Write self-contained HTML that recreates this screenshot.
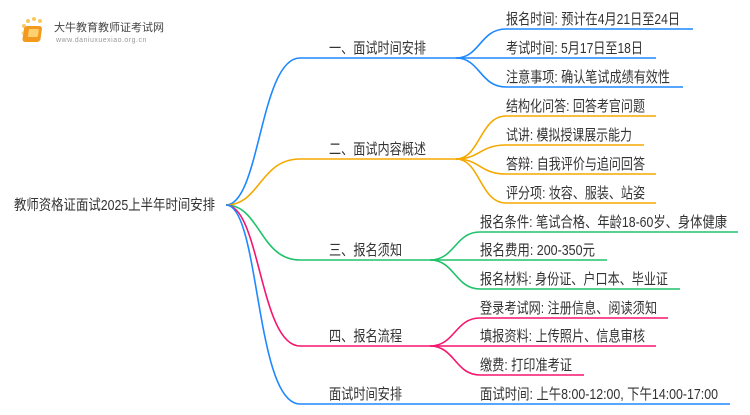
<!DOCTYPE html>
<html><head><meta charset="utf-8"><style>
html,body{margin:0;padding:0;background:#fff;}
svg text{font-family:"Liberation Sans","Noto Sans CJK SC",sans-serif;fill:#333;}
</style></head><body>
<svg width="750" height="410" viewBox="0 0 750 410" xmlns="http://www.w3.org/2000/svg">
<g>
<circle cx="24" cy="26" r="2" fill="#f8c860"/><circle cx="28" cy="21" r="2" fill="#f8c860"/><circle cx="34" cy="19" r="2" fill="#f8c860"/><circle cx="40" cy="21" r="2" fill="#f8c860"/><circle cx="23" cy="33" r="1.6" fill="#f8d890"/>
<rect x="28" y="26" width="18" height="16" rx="3" fill="#f39a1e" transform="skewX(-8)"/>
<rect x="33" y="29" width="10" height="8" rx="1" fill="#ffd070" transform="skewX(-8)"/>
<text x="54" y="31" font-size="11" style="fill:#444">大牛教育教师证考试网</text>
<text x="56" y="42" font-size="7" style="fill:#999" letter-spacing="0.5">www.daniuxuexiao.org.cn</text>
</g>
<text x="14" y="210" font-size="14.5" textLength="201" lengthAdjust="spacingAndGlyphs">教师资格证面试2025上半年时间安排</text>
<g fill="none" stroke-width="1.6">
<path d="M226 205 C260 205,260 58,300 58 L456 58" stroke="#1e88ff"/>
<path d="M456 58 C480 58,480 29,506 29 L693 29" stroke="#1e88ff"/>
<path d="M456 58 L656 58" stroke="#1e88ff"/>
<path d="M456 58 C480 58,480 87,506 87 L683 87" stroke="#1e88ff"/>
<path d="M226 205 C260 205,260 159,300 159 L456 159" stroke="#f5a800"/>
<path d="M456 159 C480 159,480 116,506 116 L656 116" stroke="#f5a800"/>
<path d="M456 159 C480 159,480 145,506 145 L644 145" stroke="#f5a800"/>
<path d="M456 159 C480 159,480 174,506 174 L656 174" stroke="#f5a800"/>
<path d="M456 159 C480 159,480 203,506 203 L656 203" stroke="#f5a800"/>
<path d="M226 205 C260 205,260 260,300 260 L430 260" stroke="#1ec26a"/>
<path d="M430 260 C455 260,455 232,480 232 L738 232" stroke="#1ec26a"/>
<path d="M430 260 L607 260" stroke="#1ec26a"/>
<path d="M430 260 C455 260,455 289,480 289 L680 289" stroke="#1ec26a"/>
<path d="M226 205 C260 205,260 346,300 346 L430 346" stroke="#f5156e"/>
<path d="M430 346 C455 346,455 318,480 318 L668 318" stroke="#f5156e"/>
<path d="M430 346 L656 346" stroke="#f5156e"/>
<path d="M430 346 C455 346,455 375,480 375 L584 375" stroke="#f5156e"/>
<path d="M226 205 C260 205,255 404,300 404 L730 404" stroke="#1e88ff"/>
</g>
<g font-size="15" lengthAdjust="spacingAndGlyphs">
<text x="329" y="53" textLength="97" lengthAdjust="spacingAndGlyphs">一、面试时间安排</text>
<text x="506" y="24" textLength="174" lengthAdjust="spacingAndGlyphs">报名时间: 预计在4月21日至24日</text>
<text x="506" y="53" textLength="137" lengthAdjust="spacingAndGlyphs">考试时间: 5月17日至18日</text>
<text x="506" y="82" textLength="164" lengthAdjust="spacingAndGlyphs">注意事项: 确认笔试成绩有效性</text>
<text x="329" y="154" textLength="97" lengthAdjust="spacingAndGlyphs">二、面试内容概述</text>
<text x="506" y="111" textLength="139" lengthAdjust="spacingAndGlyphs">结构化问答: 回答考官问题</text>
<text x="506" y="140" textLength="126" lengthAdjust="spacingAndGlyphs">试讲: 模拟授课展示能力</text>
<text x="506" y="169" textLength="139" lengthAdjust="spacingAndGlyphs">答辩: 自我评价与追问回答</text>
<text x="506" y="198" textLength="139" lengthAdjust="spacingAndGlyphs">评分项: 妆容、服装、站姿</text>
<text x="329" y="255" textLength="73" lengthAdjust="spacingAndGlyphs">三、报名须知</text>
<text x="480" y="227" textLength="247" lengthAdjust="spacingAndGlyphs">报名条件: 笔试合格、年龄18-60岁、身体健康</text>
<text x="480" y="255" textLength="115" lengthAdjust="spacingAndGlyphs">报名费用: 200-350元</text>
<text x="480" y="284" textLength="188" lengthAdjust="spacingAndGlyphs">报名材料: 身份证、户口本、毕业证</text>
<text x="329" y="341" textLength="73" lengthAdjust="spacingAndGlyphs">四、报名流程</text>
<text x="480" y="313" textLength="177" lengthAdjust="spacingAndGlyphs">登录考试网: 注册信息、阅读须知</text>
<text x="480" y="341" textLength="165" lengthAdjust="spacingAndGlyphs">填报资料: 上传照片、信息审核</text>
<text x="480" y="370" textLength="92" lengthAdjust="spacingAndGlyphs">缴费: 打印准考证</text>
<text x="329" y="399" textLength="73" lengthAdjust="spacingAndGlyphs">面试时间安排</text>
<text x="480" y="399" textLength="238" lengthAdjust="spacingAndGlyphs">面试时间: 上午8:00-12:00, 下午14:00-17:00</text>
</g>
</svg>
</body></html>
